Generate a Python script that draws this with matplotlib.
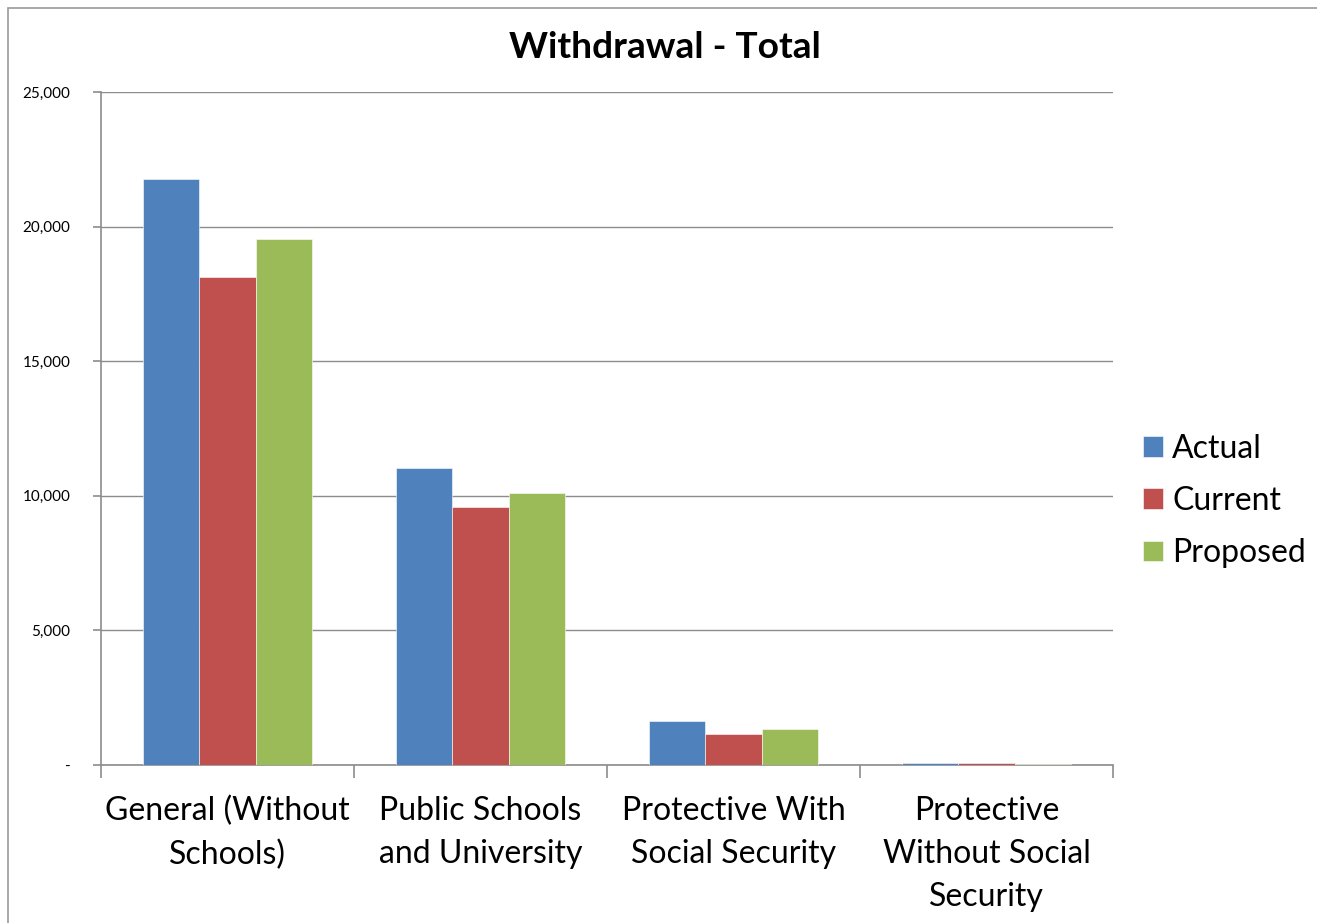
import matplotlib.pyplot as plt
import numpy as np
from matplotlib.ticker import FuncFormatter, FixedLocator
from matplotlib.patches import Rectangle

categories = ["General (Without\nSchools)", "Public Schools\nand University",
              "Protective With\nSocial Security", "Protective\nWithout Social\nSecurity"]
series = ["Actual", "Current", "Proposed"]
actual = [21780, 11030, 1630, 70]
current = [18130, 9580, 1170, 70]
proposed = [19540, 10100, 1350, 40]
colors = ["#4F81BD", "#C0504D", "#9BBB59"]

plt.rcParams['font.family'] = ['Lato', 'DejaVu Sans']

fig = plt.figure(figsize=(13.17, 9.23), dpi=100)
ax = fig.add_axes([101 / 1317, 1 - 765 / 923, (1113 - 101) / 1317, (765 - 92) / 923])

# outer chart border
fig.patches.append(Rectangle((8 / 1317, -0.01), 1.1, 1 - 8 / 923 + 0.01,
                             transform=fig.transFigure, fill=False,
                             edgecolor="#9a9a9a", linewidth=1.2))

x = np.arange(len(categories))
w = 0.222
for i, (vals, name) in enumerate(zip([actual, current, proposed], series)):
    ax.bar(x + (i - 1) * w, vals, width=w, color=colors[i], label=name,
           edgecolor="white", linewidth=0.4, zorder=3)

ax.set_xlim(-0.5, len(categories) - 0.5)
ax.set_ylim(0, 25000)
ax.set_yticks(np.arange(0, 25001, 5000))
ax.yaxis.set_major_formatter(FuncFormatter(lambda v, p: "-" if v == 0 else f"{int(v):,}"))
ax.grid(axis="y", color="#8c8c8c", linewidth=1.0, zorder=0)

ax.xaxis.set_major_locator(FixedLocator(np.arange(-0.5, len(categories), 1.0)))
ax.xaxis.set_minor_locator(FixedLocator(x))
ax.set_xticklabels([])
ax.set_xticklabels(categories, minor=True, fontsize=23, linespacing=1.56)
ax.tick_params(axis="x", which="major", length=9, color="#8c8c8c", width=1.2)
ax.tick_params(axis="x", which="minor", length=0, pad=22)
ax.tick_params(axis="y", length=6, color="#8c8c8c", width=1.2, labelsize=11, pad=16)

for s in ["top", "right"]:
    ax.spines[s].set_visible(False)
for s in ["left", "bottom"]:
    ax.spines[s].set_color("#8c8c8c")
    ax.spines[s].set_linewidth(1.2)

fig.text(665 / 1317, 1 - 47 / 923, "Withdrawal - Total", ha="center", va="center",
         fontsize=26.7, fontweight="bold")

ax.legend(loc="center left", bbox_to_anchor=(1114 / 1317, 1 - 501 / 923),
          bbox_transform=fig.transFigure, frameon=False, fontsize=23,
          handlelength=0.62, handleheight=0.62, handletextpad=0.3, labelspacing=0.7)

plt.savefig("out.png", dpi=100)
plt.close()
